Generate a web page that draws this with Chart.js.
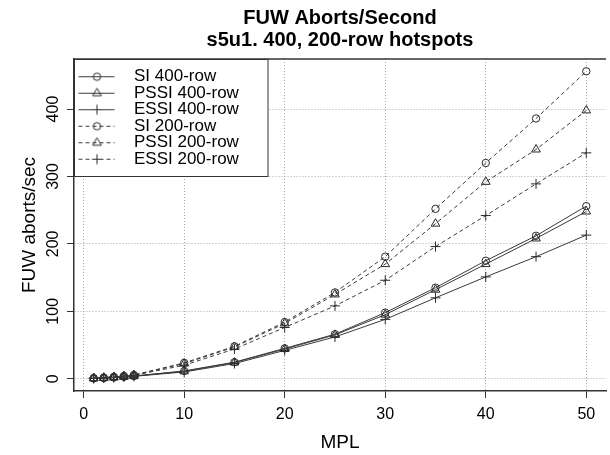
<!DOCTYPE html>
<html><head><meta charset="utf-8">
<script src="https://cdn.jsdelivr.net/npm/chart.js@4.4.1/dist/chart.umd.min.js"></script>
<style>
html,body{margin:0;padding:0;overflow:hidden;background:#fff;width:610px;height:455px}
#wrap{width:612px;height:455px;position:relative}
</style></head>
<body><div id="wrap"><canvas id="c" width="612" height="455"></canvas></div>
<script>
// ---- data ----
const mpl      = [1, 2, 3, 4, 5, 10, 15, 20, 25, 30, 35, 40, 45, 50];
const si400    = [0.5, 1.0, 1.8, 2.8, 4.0, 11.5, 24.5, 45, 66, 98, 135, 175, 212, 256];
const pssi400  = [0.5, 1.0, 1.7, 2.7, 3.8, 11, 24, 44, 65, 95, 132, 170, 208, 248];
const essi400  = [0.4, 0.9, 1.6, 2.5, 3.5, 10, 22.5, 42, 62, 88, 120, 151, 181, 213];
const si200    = [0.8, 1.6, 2.7, 4.0, 5.5, 23.5, 48, 84, 128, 181, 252, 320, 386, 456];
const pssi200  = [0.8, 1.5, 2.6, 3.9, 5.3, 22.5, 47, 82, 125, 170, 230, 292, 340, 398];
const essi200  = [0.7, 1.4, 2.4, 3.6, 5.0, 20, 44, 76, 108, 146, 196, 242, 289, 335];
const seriesLabels = ['SI 400-row', 'PSSI 400-row', 'ESSI 400-row', 'SI 200-row', 'PSSI 200-row', 'ESSI 200-row'];
const xTicks = [0, 10, 20, 30, 40, 50];
const yTicks = [0, 100, 200, 300, 400];
const titleLines = ['FUW Aborts/Second', 's5u1. 400, 200-row hotspots'];
const xTitle = 'MPL';
const yTitle = 'FUW aborts/sec';

// ---- styling ----
const FONT = "'Liberation Sans', Arial, Helvetica, sans-serif";
Chart.defaults.font.family = FONT;
Chart.defaults.color = '#000';
const LINE = '#3a3a3a';
const MARK = '#2a2a2a';
const DASH = [4, 3];

const seriesValues = [si400, pssi400, essi400, si200, pssi200, essi200];
const styles = ['circle', 'triangle', 'cross', 'circle', 'triangle', 'cross'];
const radii = {circle: 3.7, triangle: 5, cross: 5};

function makeSample(style, dashed) {
  const c = document.createElement('canvas');
  c.width = 52; c.height = 17;
  const g = c.getContext('2d');
  g.strokeStyle = LINE; g.lineWidth = 1;
  if (dashed) g.setLineDash(DASH);
  g.beginPath(); g.moveTo(5, 8.5); g.lineTo(41, 8.5); g.stroke();
  g.setLineDash([]);
  g.strokeStyle = MARK;
  const cx = 23.5, cy = 8.5;
  g.beginPath();
  if (style === 'circle') { g.arc(cx, cy, 3.7, 0, Math.PI * 2); }
  else if (style === 'triangle') {
    const r = 5;
    g.moveTo(cx, cy - r); g.lineTo(cx + r * 0.866, cy + r / 2); g.lineTo(cx - r * 0.866, cy + r / 2); g.closePath();
  } else {
    g.moveTo(cx - 5, cy); g.lineTo(cx + 5, cy); g.moveTo(cx, cy - 5); g.lineTo(cx, cy + 5);
  }
  g.stroke();
  return c;
}
const samples = styles.map((s, i) => makeSample(s, i >= 3));

const datasets = seriesValues.map((vals, i) => ({
  label: seriesLabels[i],
  data: mpl.map((x, j) => ({x: x, y: vals[j]})),
  borderColor: LINE,
  borderWidth: 1,
  borderDash: i >= 3 ? DASH : [],
  pointStyle: styles[i],
  pointRadius: radii[styles[i]],
  pointBorderColor: MARK,
  pointBackgroundColor: 'rgba(0,0,0,0)',
  pointBorderWidth: 1,
  tension: 0,
  fill: false
}));

const frame = {
  id: 'frame',
  afterInit(chart) {
    const lg = chart.legend;
    const orig = lg.draw.bind(lg);
    lg.draw = function (...a) {
      const ctx = chart.ctx;
      ctx.save();
      ctx.fillStyle = '#fff';
      ctx.fillRect(lg.left + 1, lg.top + 1, 193, 116);
      ctx.strokeStyle = '#333'; ctx.lineWidth = 1;
      ctx.strokeRect(lg.left + 0.5, lg.top + 0.5, 193.5, 117);
      ctx.restore();
      orig(...a);
    };
  },
  afterLayout(chart) {
    const lg = chart.legend, a = chart.chartArea;
    lg.left = a.left; lg.top = a.top;
    lg.right = a.left + lg.width; lg.bottom = a.top + lg.height;
  },
  afterDraw(chart) {
    const a = chart.chartArea, ctx = chart.ctx;
    ctx.save();
    ctx.strokeStyle = '#333'; ctx.lineWidth = 1.5;
    ctx.beginPath(); ctx.moveTo(a.left, a.top); ctx.lineTo(a.right, a.top); ctx.stroke();
    ctx.restore();
  }
};

new Chart(document.getElementById('c'), {
  type: 'line',
  data: {datasets},
  plugins: [frame],
  options: {
    responsive: false,
    devicePixelRatio: 1,
    animation: false,
    layout: {padding: 0},
    plugins: {
      tooltip: {enabled: false},
      title: {
        display: true, text: titleLines, fullSize: false, color: '#000',
        font: {size: 20, weight: 'bold', lineHeight: 1.1},
        padding: {top: 7, bottom: 8}
      },
      legend: {
        position: 'chartArea', align: 'start',
        title: {display: true, text: ' ', padding: 0, font: {size: 9.7, lineHeight: 1}},
        labels: {
          usePointStyle: true, pointStyleWidth: 52, padding: -0.5,
          font: {size: 17}, color: '#000',
          generateLabels: (chart) => chart.data.datasets.map((ds, i) => ({
            text: ds.label, pointStyle: samples[i], fillStyle: 'rgba(0,0,0,0)',
            strokeStyle: 'rgba(0,0,0,0)', lineWidth: 0, hidden: false,
            datasetIndex: i, fontColor: '#000', textAlign: 'left'
          }))
        }
      }
    },
    scales: {
      x: {
        type: 'linear', min: -0.96, max: 51.96,
        afterFit: (s) => { s.height = 64; },
        afterBuildTicks: (s) => { s.ticks = xTicks.map(v => ({value: v})); },
        ticks: {autoSkip: false, font: {size: 16}, color: '#000', padding: 7, maxRotation: 0},
        grid: {color: '#aaa', lineWidth: 1, tickLength: 7, tickColor: '#333', tickWidth: 1, tickBorderDash: []},
        border: {display: true, color: '#333', width: 1.5, dash: [1, 2]},
        title: {display: true, text: xTitle, font: {size: 19}, color: '#000', padding: {top: 0, bottom: 0.6}}
      },
      y: {
        type: 'linear', min: -18.24, max: 474.24,
        afterFit: (s) => { s.width = 74; },
        afterBuildTicks: (s) => { s.ticks = yTicks.map(v => ({value: v})); },
        ticks: {autoSkip: false, font: {size: 16}, color: '#000', padding: 0.5, minRotation: 90, maxRotation: 90, crossAlign: 'center'},
        grid: {color: '#aaa', lineWidth: 1, tickLength: 7, tickColor: '#333', tickWidth: 1, tickBorderDash: []},
        border: {display: true, color: '#333', width: 1.5, dash: [1, 2]},
        title: {display: true, text: yTitle, font: {size: 19}, color: '#000', padding: {top: 18.6, bottom: 0}}
      }
    }
  }
});
</script>
</body></html>
